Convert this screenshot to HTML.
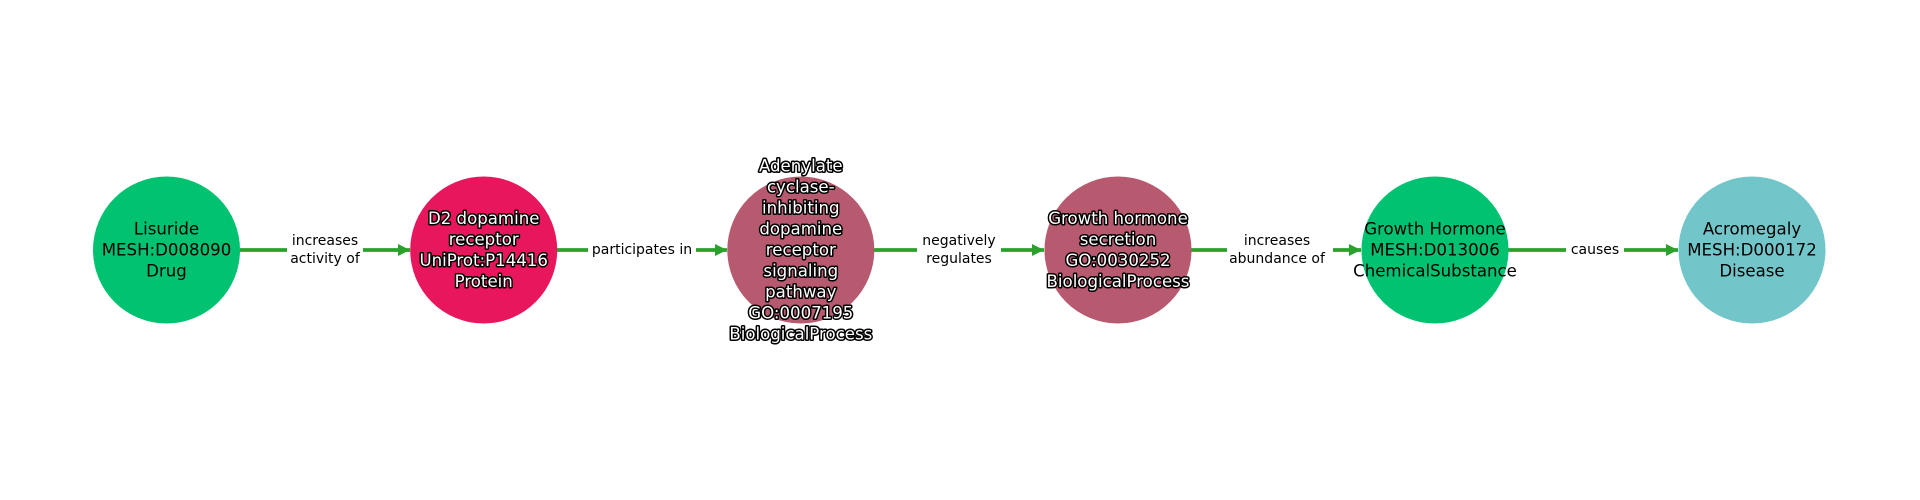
<!DOCTYPE html>
<html><head><meta charset="utf-8"><style>
html,body{margin:0;padding:0;background:#fff;}
svg{display:block;}
text{font-family:"DejaVu Sans","Liberation Sans",sans-serif;}
.n{font-size:16.6px;text-anchor:middle;dominant-baseline:central;}
.o{fill:#fff;stroke:#000;stroke-width:3px;paint-order:stroke;stroke-linejoin:round;}
.e{font-size:14px;text-anchor:middle;dominant-baseline:central;fill:#000;}
</style></head><body>
<svg width="1920" height="500" viewBox="0 0 1920 500">
<defs><marker id="a" markerWidth="12" markerHeight="12" refX="12" refY="6" orient="auto" markerUnits="userSpaceOnUse"><path d="M0,0 L12,6 L0,12 z" fill="#2ca02c"/></marker></defs>
<g stroke="#2ca02c" stroke-width="3.8" marker-end="url(#a)">
<line x1="240" y1="250" x2="410" y2="250"/>
<line x1="557" y1="250" x2="727" y2="250"/>
<line x1="874" y1="250" x2="1044" y2="250"/>
<line x1="1191" y1="250" x2="1361" y2="250"/>
<line x1="1508" y1="250" x2="1678" y2="250"/>
</g>
<circle cx="166.5" cy="250" r="73.5" fill="#00c270"/>
<circle cx="483.7" cy="250" r="73.5" fill="#e8175d"/>
<circle cx="800.8" cy="250" r="73.5" fill="#b75a70"/>
<circle cx="1118" cy="250" r="73.5" fill="#b75a70"/>
<circle cx="1435" cy="250" r="73.5" fill="#00c270"/>
<circle cx="1752" cy="250" r="73.5" fill="#72c6ca"/>
<g fill="#fff">
<rect x="287" y="232" width="76" height="36"/>
<rect x="588" y="240" width="108" height="20"/>
<rect x="917" y="232" width="84" height="36"/>
<rect x="1227" y="232" width="106" height="36"/>
<rect x="1566" y="240" width="58" height="20"/>
</g>
<text class="e" x="325" y="241">increases</text><text class="e" x="325" y="259">activity of</text>
<text class="e" x="642" y="250">participates in</text>
<text class="e" x="959" y="241">negatively</text><text class="e" x="959" y="259">regulates</text>
<text class="e" x="1277" y="241">increases</text><text class="e" x="1277" y="259">abundance of</text>
<text class="e" x="1595" y="250">causes</text>
<g class="n">
<text x="166.5" y="229">Lisuride</text><text x="166.5" y="250">MESH:D008090</text><text x="166.5" y="271">Drug</text>
<g class="o"><text x="483.7" y="218.5">D2 dopamine</text><text x="483.7" y="239.5">receptor</text><text x="483.7" y="260.5">UniProt:P14416</text><text x="483.7" y="281.5">Protein</text></g>
<g class="o"><text x="800.8" y="166">Adenylate</text><text x="800.8" y="187">cyclase-</text><text x="800.8" y="208">inhibiting</text><text x="800.8" y="229">dopamine</text><text x="800.8" y="250">receptor</text><text x="800.8" y="271">signaling</text><text x="800.8" y="292">pathway</text><text x="800.8" y="313">GO:0007195</text><text x="800.8" y="334">BiologicalProcess</text></g>
<g class="o"><text x="1118" y="218.5">Growth hormone</text><text x="1118" y="239.5">secretion</text><text x="1118" y="260.5">GO:0030252</text><text x="1118" y="281.5">BiologicalProcess</text></g>
<text x="1435" y="229">Growth Hormone</text><text x="1435" y="250">MESH:D013006</text><text x="1435" y="271">ChemicalSubstance</text>
<text x="1752" y="229">Acromegaly</text><text x="1752" y="250">MESH:D000172</text><text x="1752" y="271">Disease</text>
</g>
</svg>
</body></html>
